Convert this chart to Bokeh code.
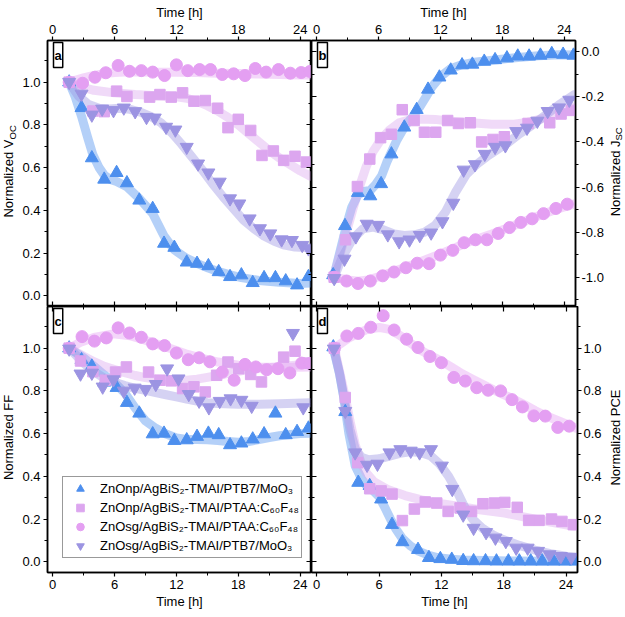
import math
from bokeh.plotting import figure
from bokeh.models import (LinearAxis, SingleIntervalTicker, NumeralTickFormatter,
                          CustomJSTickFormatter, Label, Range1d, Legend, LegendItem)
from bokeh.layouts import column, row
from bokeh.embed import file_html
from bokeh.resources import INLINE

FONT = "Liberation Sans"
C_BLUE = "#4D8FEE"
C_SQ = "#DCA6EF"
C_CI = "#E49FF2"
C_TRI = "#9C94E2"

LABELS = ["ZnOnp/AgBiS\u2082-TMAI/PTB7/MoO\u2083",
          "ZnOnp/AgBiS\u2082-TMAI/PTAA:C\u2086\u2080F\u2084\u2088",
          "ZnOsg/AgBiS\u2082-TMAI/PTAA:C\u2086\u2080F\u2084\u2088",
          "ZnOsg/AgBiS\u2082-TMAI/PTB7/MoO\u2083"]

# ---------------- panel a : Voc ----------------
ta_blue = [1.6, 2.8, 3.8, 5.0, 6.2, 7.2, 8.4, 9.7, 10.8, 11.8, 13.0, 14.0, 15.1, 16.1, 17.2, 18.3, 19.4, 20.5, 21.6, 22.6, 23.7, 24.8]
va_blue = [1.0, 0.88, 0.645, 0.545, 0.576, 0.528, 0.447, 0.408, 0.245, 0.226, 0.157, 0.151, 0.140, 0.112, 0.089, 0.097, 0.061, 0.084, 0.084, 0.069, 0.050, 0.089]
ta_sq = [1.6, 3.9, 5.0, 6.2, 7.2, 9.4, 10.4, 11.5, 12.6, 13.7, 14.8, 16.0, 17.0, 18.0, 19.2, 20.3, 21.4, 22.4, 23.5, 24.6]
va_sq = [1.0, 0.865, 0.862, 0.958, 0.933, 0.93, 0.942, 0.93, 0.95, 0.911, 0.914, 0.878, 0.787, 0.826, 0.774, 0.657, 0.678, 0.634, 0.653, 0.626]
ta_ci = [1.6, 2.9, 4.1, 5.15, 6.35, 7.45, 8.6, 9.7, 10.85, 12.0, 13.1, 14.25, 15.3, 16.45, 17.55, 18.65, 19.65, 20.7, 21.9, 23.05, 24.1, 24.95]
va_ci = [1.0, 0.995, 1.023, 1.044, 1.078, 1.051, 1.054, 1.047, 1.031, 1.081, 1.054, 1.059, 1.059, 1.036, 1.039, 1.031, 1.064, 1.047, 1.059, 1.042, 1.045, 1.05]
ta_tri = [1.6, 2.8, 3.8, 4.8, 5.9, 6.9, 8.0, 9.1, 9.9, 11.0, 11.9, 13.0, 14.1, 15.1, 16.2, 17.2, 18.1, 19.1, 20.1, 21.1, 22.2, 23.2, 24.2, 24.8]
va_tri = [1.0, 0.945, 0.847, 0.875, 0.868, 0.88, 0.863, 0.836, 0.833, 0.79, 0.777, 0.696, 0.618, 0.576, 0.533, 0.455, 0.431, 0.361, 0.315, 0.291, 0.263, 0.26, 0.237, 0.221]

fa_blue_t = [1.6, 2.2, 2.8, 3.4, 3.9, 4.5, 5.0, 5.6, 6.2, 7.2, 8.4, 9.7, 10.8, 11.8, 13.0, 14.0, 15.1, 16.1, 17.2, 18.3, 20.0, 22.0, 24.0, 25.0]
fa_blue_v = [1.0, 0.93, 0.84, 0.74, 0.66, 0.6, 0.565, 0.545, 0.535, 0.51, 0.455, 0.385, 0.28, 0.215, 0.175, 0.152, 0.13, 0.113, 0.098, 0.085, 0.072, 0.063, 0.058, 0.06]
fa_sq_t = [1.6, 3, 4, 6, 8, 10, 12, 13, 14, 15, 16, 17, 18, 19, 20, 21, 22, 23, 24, 25]
fa_sq_v = [1.0, 0.975, 0.962, 0.95, 0.942, 0.937, 0.932, 0.925, 0.91, 0.89, 0.865, 0.835, 0.8, 0.76, 0.72, 0.68, 0.645, 0.615, 0.585, 0.56]
fa_ci_t = [1.6, 3, 4, 5, 6, 7, 8, 10, 12, 14, 16, 18, 20, 22, 24, 25]
fa_ci_v = [1.0, 1.02, 1.032, 1.04, 1.045, 1.047, 1.047, 1.046, 1.046, 1.045, 1.042, 1.04, 1.038, 1.036, 1.034, 1.033]
fa_tri_t = [1.6, 2.5, 3.5, 4.5, 5.5, 6.5, 7.5, 8.5, 9.5, 10.5, 11.5, 12.5, 13.5, 14.5, 15.5, 16.5, 17.5, 18.5, 19.5, 20.5, 21.5, 22.5, 23.5, 25]
fa_tri_v = [1.0, 0.935, 0.895, 0.878, 0.875, 0.878, 0.873, 0.86, 0.84, 0.81, 0.765, 0.71, 0.65, 0.59, 0.525, 0.465, 0.41, 0.355, 0.315, 0.28, 0.255, 0.237, 0.228, 0.225]

# ---------------- panel b : Jsc ----------------
tb_blue = [1.6, 2.75, 4.0, 5.2, 6.25, 7.25, 8.5, 9.7, 10.8, 11.9, 13.0, 14.1, 15.1, 16.25, 17.3, 18.45, 19.5, 20.6, 21.7, 22.8, 23.9, 24.9]
vb_blue = [-0.99, -0.772, -0.625, -0.64, -0.586, -0.454, -0.335, -0.257, -0.167, -0.113, -0.082, -0.059, -0.056, -0.043, -0.036, -0.028, -0.02, -0.02, -0.016, -0.009, -0.012, -0.016]
tb_sq = [1.7, 2.8, 3.95, 5.15, 6.2, 7.25, 8.3, 9.45, 10.45, 11.55, 12.7, 13.75, 14.9, 16.0, 17.1, 18.2, 20.5, 22.6, 23.7, 24.7]
vb_sq = [-1.0, -0.834, -0.598, -0.476, -0.381, -0.366, -0.257, -0.305, -0.357, -0.357, -0.305, -0.318, -0.315, -0.40, -0.389, -0.377, -0.318, -0.315, -0.276, -0.26]
tb_ci = [1.7, 2.9, 4.0, 5.2, 6.4, 7.5, 8.65, 9.75, 10.9, 12.0, 13.2, 14.3, 15.4, 16.5, 17.6, 18.7, 19.8, 20.9, 22.0, 23.2, 24.3]
vb_ci = [-1.0, -1.017, -1.028, -1.017, -0.994, -0.977, -0.958, -0.938, -0.94, -0.902, -0.881, -0.847, -0.834, -0.834, -0.806, -0.78, -0.757, -0.741, -0.718, -0.695, -0.676]
tb_tri = [1.7, 2.7, 3.8, 4.85, 5.95, 6.9, 8.0, 9.0, 10.0, 11.1, 12.2, 13.25, 14.25, 15.35, 16.3, 17.3, 18.3, 19.35, 20.4, 21.4, 22.4, 23.5, 24.5]
vb_tri = [-1.005, -0.919, -0.82, -0.764, -0.769, -0.811, -0.842, -0.834, -0.814, -0.803, -0.753, -0.671, -0.524, -0.50, -0.454, -0.423, -0.416, -0.353, -0.338, -0.307, -0.264, -0.248, -0.214]

fb_blue_t = [1.7, 2.3, 2.9, 3.4, 4.0, 4.6, 5.2, 5.7, 6.3, 6.8, 7.3, 7.8, 8.3, 8.8, 9.3, 10.0, 10.6, 11.2, 12.0, 13.0, 14.0, 15.5, 17.5, 19.5, 21.5, 23.5, 25.0]
fb_blue_v = [-0.99, -0.88, -0.77, -0.69, -0.635, -0.62, -0.615, -0.59, -0.55, -0.49, -0.44, -0.39, -0.35, -0.315, -0.29, -0.245, -0.2, -0.155, -0.11, -0.075, -0.058, -0.045, -0.035, -0.025, -0.018, -0.013, -0.014]
fb_sq_t = [1.7, 2.5, 3.2, 4.0, 4.8, 5.5, 6.3, 7.0, 8.0, 9.0, 10.0, 11.5, 13, 15, 17, 19, 20.5, 22, 23.5, 25]
fb_sq_v = [-0.99, -0.86, -0.75, -0.62, -0.51, -0.44, -0.385, -0.35, -0.315, -0.302, -0.298, -0.3, -0.308, -0.315, -0.322, -0.322, -0.312, -0.295, -0.27, -0.245]
fb_ci_t = [1.7, 3, 4, 5, 6, 7, 8, 9, 10, 11, 12, 13, 14, 15, 16, 17, 18, 19, 20, 21, 22, 23, 24, 25]
fb_ci_v = [-1.0, -1.012, -1.018, -1.012, -0.998, -0.982, -0.966, -0.95, -0.932, -0.915, -0.897, -0.878, -0.858, -0.84, -0.824, -0.808, -0.79, -0.773, -0.755, -0.737, -0.72, -0.703, -0.688, -0.675]
fb_tri_t = [1.7, 2.5, 3.5, 4.5, 5.5, 6.5, 7.5, 8.5, 9.5, 10.5, 11.5, 12.5, 13.5, 14.5, 15.5, 16.5, 17.5, 18.5, 19.5, 20.5, 21.5, 22.5, 23.5, 25]
fb_tri_v = [-1.0, -0.91, -0.83, -0.785, -0.778, -0.79, -0.808, -0.815, -0.812, -0.8, -0.77, -0.71, -0.62, -0.545, -0.5, -0.465, -0.435, -0.405, -0.37, -0.338, -0.305, -0.27, -0.235, -0.19]

# ---------------- panel c : FF ----------------
tc_blue = [1.6, 2.8, 3.8, 5.0, 6.2, 7.2, 8.4, 9.7, 10.8, 11.8, 13.0, 14.0, 15.1, 16.1, 17.2, 18.3, 19.4, 20.5, 21.6, 22.6, 23.7, 24.8]
vc_blue = [1.0, 0.945, 0.915, 0.84, 0.815, 0.745, 0.695, 0.598, 0.601, 0.567, 0.57, 0.586, 0.601, 0.594, 0.547, 0.555, 0.574, 0.598, 0.695, 0.594, 0.609, 0.625]
tc_sq = [1.6, 2.7, 3.9, 5.1, 6.1, 7.15, 9.3, 10.4, 11.5, 12.6, 13.7, 14.8, 15.9, 17.0, 18.05, 19.2, 20.25, 22.4, 23.5, 24.75]
vc_sq = [1.0, 0.94, 0.89, 0.85, 0.888, 0.912, 0.888, 0.85, 0.847, 0.811, 0.819, 0.795, 0.873, 0.935, 0.904, 0.877, 0.842, 0.958, 0.986, 0.93]
tc_ci = [1.6, 2.85, 4.05, 5.2, 6.35, 7.45, 8.6, 9.7, 10.85, 12.0, 13.15, 14.2, 15.25, 16.45, 17.6, 18.65, 19.7, 20.75, 21.85, 23.0, 24.15, 24.95]
vc_ci = [1.0, 1.054, 1.033, 1.048, 1.095, 1.071, 1.051, 1.02, 1.012, 0.977, 0.946, 0.955, 0.936, 0.888, 0.85, 0.924, 0.912, 0.899, 0.904, 0.884, 0.93, 0.928]
tc_tri = [1.6, 2.7, 3.8, 4.85, 5.9, 6.9, 7.95, 9.0, 10.0, 11.1, 12.2, 13.2, 14.2, 15.15, 16.2, 17.25, 18.3, 19.3, 23.3, 24.3]
vc_tri = [0.997, 0.88, 0.884, 0.819, 0.853, 0.8, 0.814, 0.808, 0.831, 0.904, 0.857, 0.784, 0.753, 0.722, 0.752, 0.764, 0.757, 0.729, 1.07, 0.722]

fc_blue_t = [1.6, 3, 4, 5, 6, 7, 8, 9, 10, 11, 12, 13, 14, 15, 16, 17, 18, 19, 20, 21, 22, 23, 24, 25]
fc_blue_v = [1.0, 0.955, 0.915, 0.875, 0.838, 0.79, 0.72, 0.66, 0.625, 0.598, 0.58, 0.573, 0.572, 0.571, 0.568, 0.563, 0.56, 0.563, 0.572, 0.582, 0.59, 0.596, 0.6, 0.602]
fc_sq_t = [1.6, 3, 4, 5, 6, 7, 8, 9, 10, 11, 12, 13, 14, 15, 16, 17, 18, 19, 20, 22, 24, 25]
fc_sq_v = [1.0, 0.962, 0.937, 0.915, 0.9, 0.885, 0.872, 0.862, 0.856, 0.852, 0.85, 0.85, 0.855, 0.863, 0.872, 0.882, 0.892, 0.9, 0.905, 0.913, 0.922, 0.927]
fc_ci_t = [1.6, 2.7, 4, 5.9, 7.5, 9.06, 11, 12.9, 14.5, 16.05, 18, 19.9, 22, 25]
fc_ci_v = [1.0, 1.028, 1.05, 1.067, 1.058, 1.036, 1.005, 0.974, 0.952, 0.935, 0.92, 0.912, 0.91, 0.912]
fc_tri_t = [1.6, 3, 4, 5, 6, 7, 8, 9, 10, 11, 12, 13, 14, 15, 16, 18, 20, 22, 25]
fc_tri_v = [1.0, 0.93, 0.89, 0.86, 0.84, 0.825, 0.812, 0.802, 0.792, 0.782, 0.772, 0.762, 0.752, 0.745, 0.741, 0.738, 0.738, 0.74, 0.745]

# ---------------- panel d : PCE ----------------
td_blue = [1.6, 2.75, 4.0, 5.1, 6.2, 7.25, 8.25, 9.75, 10.8, 11.9, 13.0, 14.1, 15.1, 16.25, 17.3, 18.45, 19.5, 20.6, 21.7, 22.8, 23.9, 24.9]
vd_blue = [1.005, 0.702, 0.371, 0.356, 0.293, 0.174, 0.093, 0.057, 0.019, 0.014, 0.011, 0.005, 0.004, 0.004, 0.003, 0.003, 0.003, 0.003, 0.003, 0.003, 0.003, 0.003]
td_sq = [1.7, 2.75, 3.95, 5.1, 6.2, 7.25, 8.25, 9.4, 10.45, 11.55, 12.65, 13.8, 14.9, 16.0, 17.1, 18.1, 19.3, 20.4, 21.4, 22.6, 23.6, 24.7]
vd_sq = [1.0, 0.769, 0.464, 0.342, 0.332, 0.317, 0.193, 0.247, 0.28, 0.275, 0.236, 0.252, 0.236, 0.272, 0.275, 0.278, 0.255, 0.194, 0.194, 0.2, 0.189, 0.174]
td_ci = [1.7, 2.9, 4.0, 5.2, 6.4, 7.45, 8.65, 9.75, 10.9, 12.0, 13.2, 14.3, 15.4, 16.5, 17.7, 18.8, 19.8, 20.9, 22.0, 23.2, 24.3]
vd_ci = [1.0, 1.057, 1.069, 1.098, 1.152, 1.085, 1.042, 1.003, 0.961, 0.932, 0.863, 0.846, 0.815, 0.803, 0.8, 0.759, 0.725, 0.683, 0.682, 0.629, 0.635]
td_tri = [1.65, 2.75, 3.7, 4.85, 5.85, 7.0, 8.05, 9.05, 9.9, 11.0, 12.05, 13.05, 14.1, 15.1, 16.3, 17.2, 18.2, 19.2, 20.3, 21.3, 22.4, 23.5, 24.5]
vd_tri = [0.997, 0.705, 0.511, 0.453, 0.458, 0.511, 0.526, 0.519, 0.511, 0.526, 0.449, 0.34, 0.22, 0.158, 0.138, 0.112, 0.096, 0.065, 0.065, 0.05, 0.034, 0.026, 0.022]

fd_blue_t = [1.6, 2.2, 2.6, 3.1, 3.7, 4.3, 4.8, 5.4, 6.0, 6.5, 7.1, 7.6, 8.2, 9.0, 9.8, 10.8, 11.7, 13, 14, 16, 19, 22, 25]
fd_blue_v = [1.0, 0.88, 0.77, 0.6, 0.45, 0.39, 0.355, 0.335, 0.305, 0.26, 0.2, 0.155, 0.112, 0.075, 0.05, 0.03, 0.019, 0.012, 0.009, 0.006, 0.004, 0.003, 0.003]
fd_sq_t = [1.7, 2.3, 2.8, 3.2, 3.7, 4.3, 4.8, 5.5, 6.9, 8.5, 10.1, 12, 13.6, 15.5, 18.1, 21.3, 24.8]
fd_sq_v = [1.0, 0.87, 0.76, 0.66, 0.55, 0.46, 0.415, 0.375, 0.337, 0.31, 0.29, 0.272, 0.26, 0.245, 0.228, 0.197, 0.166]
fd_ci_t = [1.7, 3, 4, 5, 6, 7, 8, 9, 10, 11, 12, 13, 14, 15, 16, 17, 18, 19, 20, 21, 22, 23, 24, 25]
fd_ci_v = [1.0, 1.045, 1.07, 1.09, 1.097, 1.088, 1.06, 1.025, 0.99, 0.965, 0.94, 0.91, 0.88, 0.855, 0.83, 0.805, 0.783, 0.76, 0.735, 0.708, 0.685, 0.665, 0.645, 0.625]
fd_tri_t = [1.65, 2.2, 2.7, 3.2, 3.7, 4.3, 5, 6, 7, 8, 9, 10, 11, 11.8, 12.7, 13.5, 14.2, 15, 16, 17, 18, 19.5, 21, 22.5, 24, 25]
fd_tri_v = [1.0, 0.88, 0.75, 0.62, 0.53, 0.49, 0.478, 0.482, 0.495, 0.508, 0.515, 0.512, 0.495, 0.46, 0.4, 0.33, 0.26, 0.2, 0.155, 0.125, 0.103, 0.077, 0.055, 0.038, 0.026, 0.02]

X_RANGE = (-0.5, 25.1)
Y_RANGE_STD = (-0.05, 1.195)
Y_RANGE_JSC = (-1.13, 0.05)

# layout (pixels)
FRAME_W, FRAME_H = 266, 266
LB, RB, TB, BB = 26, 29, 40, 40
STRIP_L, STRIP_R = 19, 17
TOTAL_H = TB + 2 * FRAME_H + BB


def make_fig(yr, left_side, top_side):
    p = figure(width=FRAME_W + (LB if left_side else RB),
               height=FRAME_H + (TB if top_side else BB),
               x_range=Range1d(*X_RANGE), y_range=Range1d(*yr),
               x_axis_location=None, y_axis_location=None,
               toolbar_location=None, output_backend="svg",
               min_border_left=LB if left_side else 0,
               min_border_right=0 if left_side else RB,
               min_border_top=TB if top_side else 0,
               min_border_bottom=0 if top_side else BB)
    p.grid.visible = False
    p.outline_line_color = "black"
    p.outline_line_width = 1.5
    p.background_fill_color = "white"
    p.border_fill_color = "white"
    lab_x = "above" if top_side else "below"
    lab_y = "left" if left_side else "right"
    for side in ["above", "below", "left", "right"]:
        is_x = side in ("above", "below")
        ticker = SingleIntervalTicker(interval=6, num_minor_ticks=2) if is_x else \
            SingleIntervalTicker(interval=0.2, num_minor_ticks=2)
        ax = LinearAxis(ticker=ticker)
        ax.axis_line_color = "black"
        ax.axis_line_width = 1.5
        ax.major_tick_line_color = "black"
        ax.minor_tick_line_color = "black"
        ax.major_tick_line_width = 1.2
        ax.minor_tick_line_width = 1.0
        if side in (lab_x, lab_y):
            ax.formatter = NumeralTickFormatter(format="0" if is_x else "0.0")
            ax.major_tick_out = 4
            ax.major_tick_in = 0
            ax.minor_tick_out = 3
            ax.minor_tick_in = 0
            if is_x:
                ax.major_label_standoff = 3
            else:
                ax.major_label_standoff = 3 if side == "left" else 2
            ax.major_label_text_font = FONT
            ax.major_label_text_font_size = "13px"
            ax.major_label_text_color = "black"
            if is_x:
                ax.axis_label = "Time [h]"
                ax.axis_label_standoff = 2
                ax.axis_label_text_font = FONT
                ax.axis_label_text_font_size = "13px"
                ax.axis_label_text_font_style = "normal"
                ax.axis_label_text_color = "black"
        else:
            ax.formatter = CustomJSTickFormatter(code="return ''")
            ax.major_label_text_font_size = "0px"
            ax.major_label_standoff = 0
            ax.major_tick_out = 0
            ax.major_tick_in = 5
            ax.minor_tick_out = 0
            ax.minor_tick_in = 3
        p.add_layout(ax, side)
    return p


def add_series(p, fits, pts):
    for (ft, fv, col) in fits:
        p.line(ft, fv, line_color=col, line_alpha=0.42, line_width=9,
               line_join="round", line_cap="round")
    rends = []
    for (t, v, col, mk, sz) in pts:
        r = p.scatter(t, v, marker=mk, size=sz, fill_color=col, line_color=col,
                      fill_alpha=1.0)
        rends.append(r)
    return rends


def panel_letter(p, letter, yr):
    p.add_layout(Label(x=X_RANGE[0], y=yr[1], text=letter, text_align="left",
                       text_baseline="top", x_offset=6, y_offset=-2,
                       padding=(1, 5), border_line_color="black", border_line_width=1.5,
                       background_fill_color="white", text_font=FONT,
                       text_font_style="bold", text_font_size="13px", text_color="black"))


def strip(width):
    s = figure(width=width, height=TOTAL_H, x_range=Range1d(0, width),
               y_range=Range1d(0, TOTAL_H), x_axis_location=None, y_axis_location=None,
               toolbar_location=None, output_backend="svg",
               min_border_left=0, min_border_right=0, min_border_top=0, min_border_bottom=0)
    s.grid.visible = False
    s.outline_line_color = None
    s.background_fill_color = "white"
    s.border_fill_color = "white"
    return s


def rot_label(s, x, y, text, size, align):
    s.add_layout(Label(x=x, y=y, text=text, angle=math.pi / 2, text_align=align,
                       text_baseline="middle", text_font=FONT,
                       text_font_size=size, text_color="black"))


# panel a
pa = make_fig(Y_RANGE_STD, True, True)
add_series(pa, [(fa_blue_t, fa_blue_v, C_BLUE), (fa_sq_t, fa_sq_v, C_SQ),
                (fa_ci_t, fa_ci_v, C_CI), (fa_tri_t, fa_tri_v, C_TRI)],
           [(ta_blue, va_blue, C_BLUE, "triangle", 13), (ta_sq, va_sq, C_SQ, "square", 10.5),
            (ta_ci, va_ci, C_CI, "circle", 12), (ta_tri, va_tri, C_TRI, "inverted_triangle", 13)])
panel_letter(pa, "a", Y_RANGE_STD)

# panel b
pb = make_fig(Y_RANGE_JSC, False, True)
add_series(pb, [(fb_blue_t, fb_blue_v, C_BLUE), (fb_sq_t, fb_sq_v, C_SQ),
                (fb_ci_t, fb_ci_v, C_CI), (fb_tri_t, fb_tri_v, C_TRI)],
           [(tb_blue, vb_blue, C_BLUE, "triangle", 13), (tb_sq, vb_sq, C_SQ, "square", 10.5),
            (tb_ci, vb_ci, C_CI, "circle", 12), (tb_tri, vb_tri, C_TRI, "inverted_triangle", 13)])
panel_letter(pb, "b", Y_RANGE_JSC)

# panel c
pc = make_fig(Y_RANGE_STD, True, False)
rc = add_series(pc, [(fc_blue_t, fc_blue_v, C_BLUE), (fc_sq_t, fc_sq_v, C_SQ),
                     (fc_ci_t, fc_ci_v, C_CI), (fc_tri_t, fc_tri_v, C_TRI)],
                [(tc_blue, vc_blue, C_BLUE, "triangle", 13), (tc_sq, vc_sq, C_SQ, "square", 10.5),
                 (tc_ci, vc_ci, C_CI, "circle", 12), (tc_tri, vc_tri, C_TRI, "inverted_triangle", 13)])
panel_letter(pc, "c", Y_RANGE_STD)
legend = Legend(items=[LegendItem(label=LABELS[i], renderers=[rc[i]]) for i in range(4)],
                location=(15, 14), orientation="vertical",
                border_line_color="#333333", border_line_width=1,
                background_fill_color="white", background_fill_alpha=1.0,
                label_text_font=FONT, label_text_font_size="13px", label_text_color="black",
                glyph_width=30, glyph_height=19, label_height=19, spacing=0,
                padding=2, margin=0, label_standoff=5)
pc.add_layout(legend)

# panel d
pd_ = make_fig(Y_RANGE_STD, False, False)
add_series(pd_, [(fd_blue_t, fd_blue_v, C_BLUE), (fd_sq_t, fd_sq_v, C_SQ),
                 (fd_ci_t, fd_ci_v, C_CI), (fd_tri_t, fd_tri_v, C_TRI)],
           [(td_blue, vd_blue, C_BLUE, "triangle", 13), (td_sq, vd_sq, C_SQ, "square", 10.5),
            (td_ci, vd_ci, C_CI, "circle", 12), (td_tri, vd_tri, C_TRI, "inverted_triangle", 13)])
panel_letter(pd_, "d", Y_RANGE_STD)

# side strips holding the rotated y titles (with subscripts)
top_center = TOTAL_H - (TB + FRAME_H / 2)          # centre of upper frames, from bottom
bot_center = BB + FRAME_H / 2                       # centre of lower frames, from bottom

sl = strip(STRIP_L)
rot_label(sl, 8.0, top_center + 34, "Normalized V", "13px", "right")
rot_label(sl, 11.5, top_center + 34, "OC", "9.5px", "left")
rot_label(sl, 8.0, bot_center + 2, "Normalized FF", "13px", "center")

sr = strip(STRIP_R)
rot_label(sr, 8.5, top_center + 33, "Normalized J", "13px", "right")
rot_label(sr, 12.0, top_center + 33, "SC", "9.5px", "left")
rot_label(sr, 8.5, bot_center + 2, "Normalized PCE", "13px", "center")

layout = row(sl, column(row(pa, pb), row(pc, pd_)), sr)
open("out.html", "w").write(file_html(layout, INLINE))
